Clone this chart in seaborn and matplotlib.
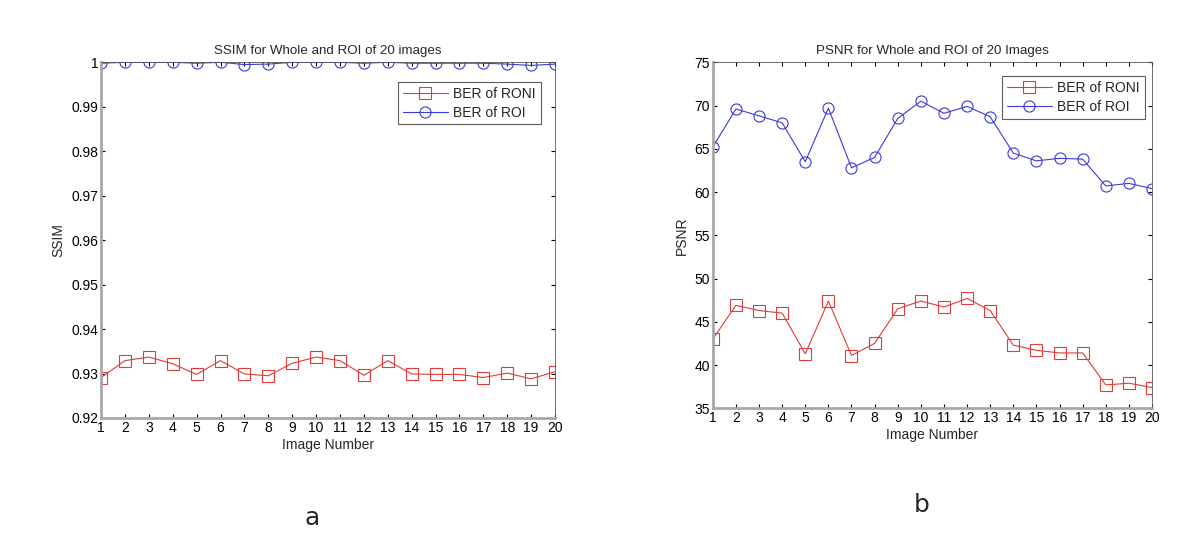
import numpy as np
import pandas as pd
import matplotlib
matplotlib.use("Agg")
import matplotlib.pyplot as plt
import seaborn as sns

# values
images = list(range(1, 21))
ssim_roni = [0.9291, 0.9329, 0.9337, 0.9322, 0.9298, 0.9329, 0.9299, 0.9295, 0.9323, 0.9337,
             0.9329, 0.9296, 0.9329, 0.9299, 0.9298, 0.9298, 0.9291, 0.9301, 0.9288, 0.9304]
ssim_roi = [0.9998, 1.0, 1.0, 1.0, 0.9998, 1.0, 0.9995, 0.9996, 1.0, 1.0,
            1.0, 0.9998, 1.0, 0.9998, 0.9998, 0.9998, 0.9998, 0.9996, 0.9993, 0.9996]
psnr_roni = [43.0, 46.9, 46.3, 46.0, 41.3, 47.4, 41.1, 42.5, 46.5, 47.4,
             46.7, 47.7, 46.3, 42.3, 41.7, 41.4, 41.4, 37.7, 37.9, 37.4]
psnr_roi = [65.2, 69.6, 68.8, 68.0, 63.5, 69.7, 62.8, 64.0, 68.5, 70.5,
            69.1, 69.9, 68.7, 64.5, 63.6, 63.9, 63.8, 60.7, 61.0, 60.4]

ssim_ticks = [0.92, 0.93, 0.94, 0.95, 0.96, 0.97, 0.98, 0.99, 1.0]
ssim_labels = ["0.92", "0.93", "0.94", "0.95", "0.96", "0.97", "0.98", "0.99", "1"]
psnr_ticks = [35, 40, 45, 50, 55, 60, 65, 70, 75]

sns.set_theme(style="white")
plt.rcParams['font.family'] = ['Liberation Sans', 'DejaVu Sans']

red = '#e03a3a'
blue = '#3a3ad8'

fig = plt.figure(figsize=(12, 5.51), dpi=100)
ax1 = fig.add_axes([0.0842, 0.2414, 0.3783, 0.6455])
ax2 = fig.add_axes([0.594, 0.259, 0.366, 0.628])


def draw(ax, roni, roi, ylim, yticks, ylabels, title, ylabel, legend_box):
    df = pd.DataFrame({'img': images, 'roni': roni, 'roi': roi})
    sns.lineplot(data=df, x='img', y='roni', ax=ax, color=red, linewidth=0.8,
                 marker='s', markersize=8, markerfacecolor='none',
                 markeredgecolor=red, markeredgewidth=0.8, label='BER of RONI')
    sns.lineplot(data=df, x='img', y='roi', ax=ax, color=blue, linewidth=0.8,
                 marker='o', markersize=8, markerfacecolor='none',
                 markeredgecolor=blue, markeredgewidth=0.8, label='BER of ROI')
    ax.set_xlim(1, 20)
    ax.set_ylim(*ylim)
    ax.set_xticks(images)
    ax.set_yticks(yticks)
    ax.set_yticklabels(ylabels)
    ax.tick_params(direction='in', length=3, width=0.8, labelsize=10, pad=2,
                   top=True, right=True, bottom=True, left=True, colors='black')
    for s in ['left', 'bottom']:
        ax.spines[s].set_color('#a8a8a8')
        ax.spines[s].set_linewidth(2)
    for s in ['top', 'right']:
        ax.spines[s].set_color('#555555')
        ax.spines[s].set_linewidth(0.6)
    ax.set_title(title, fontsize=9.6, pad=6)
    ax.set_xlabel('Image Number', fontsize=10, labelpad=2)
    ax.set_ylabel(ylabel, fontsize=10)
    leg = ax.legend(loc='upper left', bbox_to_anchor=legend_box, fontsize=10,
                    frameon=True, fancybox=False, borderpad=0.35,
                    handlelength=3.2, handletextpad=0.4, labelspacing=0.35,
                    borderaxespad=0)
    leg.get_frame().set_edgecolor('#333333')
    leg.get_frame().set_linewidth(0.8)


draw(ax1, ssim_roni, ssim_roi, (0.92, 1.0), ssim_ticks, ssim_labels,
     'SSIM for Whole and ROI of 20 images', 'SSIM', (0.655, 0.945))
draw(ax2, psnr_roni, psnr_roi, (35, 75), psnr_ticks, [str(t) for t in psnr_ticks],
     'PSNR for Whole and ROI of 20 Images', 'PSNR', (0.659, 0.96))

fig.text(0.26, 0.06, 'a', fontsize=18, ha='center', va='center', family='DejaVu Sans')
fig.text(0.768, 0.084, 'b', fontsize=18, ha='center', va='center', family='DejaVu Sans')

fig.savefig('out.png', dpi=100)
